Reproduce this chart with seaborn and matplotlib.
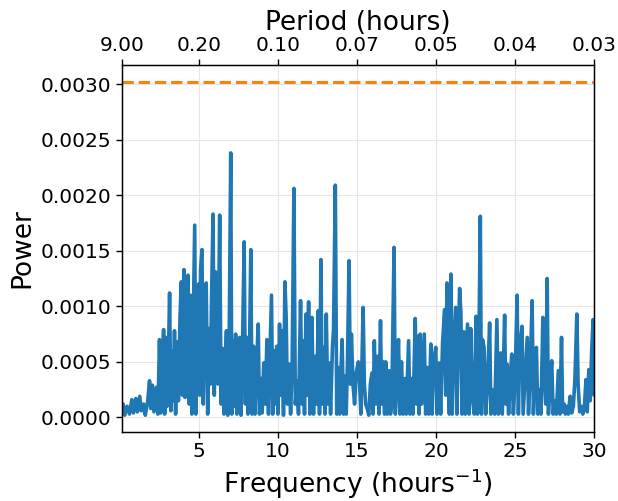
import numpy as np
import pandas as pd
import matplotlib
matplotlib.use("Agg")
import matplotlib.pyplot as plt
import seaborn as sns

# Frequency (hours^-1) and power (in units of 1e-4), by segment
freq_a = [0.11, 0.2, 0.3, 0.45, 0.6, 0.75, 0.85, 1.0, 1.1, 1.25,
          1.35, 1.5, 1.6, 1.75, 1.87, 1.95, 2.05, 2.15, 2.3, 2.4,
          2.5, 2.58, 2.68, 2.76, 2.83, 2.9, 2.98, 3.05, 3.14, 3.22,
          3.3, 3.38, 3.45, 3.52, 3.6, 3.7, 3.8, 3.88, 3.95, 4.05,
          4.12, 4.2, 4.3, 4.38, 4.45, 4.55, 4.62, 4.73, 4.8, 4.9,
          4.98]
power_a = [0.5, 1.2, 0.2, 1.0, 0.3, 1.6, 0.4, 1.7, 0.5, 1.9,
           0.6, 1.2, 0.2, 1.4, 3.3, 0.8, 2.9, 0.5, 2.7, 0.3,
           7.0, 0.4, 5.0, 7.9, 0.3, 7.2, 1.0, 4.0, 11.2, 0.6,
           6.0, 1.5, 7.8, 0.3, 6.8, 1.5, 9.0, 12.2, 2.0, 13.3,
           1.8, 9.0, 12.8, 1.2, 11.0, 0.3, 7.0, 17.3, 0.3, 9.0,
           12.0]

freq_b = [5.05, 5.1, 5.19, 5.27, 5.35, 5.46, 5.55, 5.65, 5.72, 5.8,
          5.89, 5.97, 6.05, 6.12, 6.2, 6.31, 6.4, 6.5, 6.58, 6.66,
          6.74, 6.82, 6.9, 7.01, 7.08, 7.15, 7.23, 7.32, 7.4, 7.5,
          7.58, 7.66, 7.75, 7.86, 7.94, 8.02, 8.1, 8.2, 8.28, 8.36,
          8.45, 8.55, 8.65, 8.75, 8.83, 8.93, 9.0, 9.1, 9.2, 9.3,
          9.4, 9.5, 9.59, 9.67, 9.75, 9.83, 9.92]
power_b = [2.0, 13.3, 15.1, 1.2, 8.0, 12.1, 0.3, 8.0, 3.0, 11.0,
           18.3, 2.0, 13.1, 8.0, 3.0, 18.2, 1.2, 6.2, 0.3, 5.0,
           7.8, 0.2, 4.5, 23.8, 0.3, 6.9, 1.0, 7.5, 0.3, 6.0,
           7.2, 0.2, 6.0, 15.8, 1.2, 7.2, 0.3, 6.0, 15.1, 0.3,
           6.4, 0.3, 5.0, 8.4, 0.3, 3.5, 0.4, 4.9, 1.2, 7.0,
           0.3, 6.0, 11.0, 0.3, 6.0, 1.2, 6.4]

freq_c = [10.0, 10.1, 10.18, 10.26, 10.35, 10.44, 10.52, 10.6, 10.7, 10.8,
          10.9, 11.01, 11.1, 11.2, 11.3, 11.43, 11.52, 11.6, 11.68, 11.77,
          11.85, 11.94, 12.02, 12.1, 12.15, 12.25, 12.35, 12.45, 12.55, 12.63,
          12.72, 12.8, 12.9, 12.98, 13.06, 13.15, 13.25, 13.33, 13.45, 13.52,
          13.63, 13.72, 13.8, 13.9, 13.98, 14.06, 14.15, 14.25, 14.32, 14.4,
          14.5, 14.58, 14.65, 14.75, 14.85, 14.95]
power_c = [0.3, 8.4, 2.0, 7.8, 0.2, 12.2, 9.0, 1.2, 4.8, 0.3,
           5.0, 20.6, 1.2, 3.3, 0.3, 10.5, 1.2, 6.9, 0.3, 9.3,
           2.0, 10.4, 0.3, 6.0, 9.0, 0.3, 5.5, 1.2, 9.6, 0.3,
           14.2, 1.2, 6.3, 0.3, 9.3, 1.2, 4.9, 0.3, 6.3, 8.0,
           20.9, 0.3, 4.5, 0.3, 4.0, 7.0, 0.3, 3.7, 0.3, 5.0,
           14.1, 3.0, 7.5, 3.0, 1.2, 4.0]

freq_d = [15.09, 15.17, 15.25, 15.39, 15.47, 15.55, 15.65, 15.75, 15.85, 15.95,
          16.02, 16.1, 16.2, 16.3, 16.4, 16.49, 16.57, 16.66, 16.75, 16.82,
          16.92, 17.03, 17.12, 17.2, 17.35, 17.43, 17.55, 17.63, 17.72, 17.82,
          17.92, 18.03, 18.12, 18.27, 18.35, 18.45, 18.55, 18.69, 18.77, 18.86,
          18.93, 19.0, 19.1, 19.26, 19.35, 19.45, 19.55, 19.68, 19.76, 19.85,
          19.99]
power_d = [5.0, 3.0, 0.3, 9.9, 3.0, 1.2, 0.8, 0.2, 3.0, 4.0,
           0.3, 6.9, 1.2, 5.5, 0.3, 8.7, 1.2, 5.0, 0.3, 5.0,
           0.3, 4.2, 0.3, 1.0, 15.3, 0.3, 4.0, 7.0, 0.3, 5.0,
           0.3, 3.5, 0.3, 6.9, 0.3, 3.5, 0.3, 8.9, 1.2, 7.3,
           0.3, 7.5, 1.2, 7.5, 0.3, 4.5, 0.3, 6.6, 0.3, 5.0,
           6.3]

freq_e = [20.07, 20.2, 20.3, 20.42, 20.55, 20.62, 20.7, 20.78, 20.85, 20.95,
          21.03, 21.12, 21.25, 21.33, 21.42, 21.5, 21.58, 21.65, 21.77, 21.86,
          22.0, 22.1, 22.2, 22.3, 22.42, 22.54, 22.62, 22.7, 22.81, 22.88,
          22.95, 23.05, 23.15, 23.25, 23.4, 23.48, 23.6, 23.72, 23.86, 23.95,
          24.1, 24.2, 24.35, 24.42, 24.5, 24.6, 24.72, 24.8, 24.9, 25.0]
power_e = [0.3, 4.9, 0.3, 6.7, 9.7, 2.0, 12.1, 5.0, 0.3, 12.9,
           0.3, 6.0, 9.9, 0.3, 7.0, 11.6, 9.4, 0.3, 7.7, 0.3,
           8.4, 0.3, 8.0, 2.0, 0.3, 9.1, 0.3, 4.0, 18.1, 0.3,
           7.0, 6.3, 0.3, 2.5, 8.5, 0.3, 2.5, 0.3, 8.8, 0.3,
           5.8, 0.3, 9.2, 1.2, 4.8, 0.3, 4.0, 5.7, 0.3, 3.0]

freq_f = [25.14, 25.22, 25.3, 25.45, 25.52, 25.62, 25.78, 25.86, 25.96, 26.09,
          26.17, 26.26, 26.36, 26.45, 26.55, 26.65, 26.77, 26.85, 26.95, 27.04,
          27.12, 27.2, 27.33, 27.42, 27.52, 27.62, 27.75, 27.85, 27.95, 28.02,
          28.12, 28.2, 28.3, 28.38, 28.5, 28.6, 28.7, 28.8, 28.92, 29.0,
          29.1, 29.2, 29.3, 29.4, 29.5, 29.58, 29.68, 29.76, 29.86, 29.95,
          30.0]
power_f = [11.0, 0.3, 6.0, 8.2, 0.3, 3.0, 7.2, 0.3, 4.0, 10.5,
           0.3, 4.0, 6.3, 0.3, 2.5, 0.3, 9.0, 4.0, 1.2, 12.5,
           0.3, 2.5, 5.1, 0.3, 1.5, 0.3, 4.2, 0.3, 7.2, 0.5,
           1.2, 0.3, 1.0, 0.3, 1.9, 0.4, 1.0, 3.5, 9.3, 3.0,
           0.5, 1.0, 0.3, 1.0, 3.4, 0.5, 4.3, 1.5, 6.0, 8.8,
           2.0]

threshold = 0.00302  # false-alarm level (dashed line)

bottom_ticks = [5, 10, 15, 20, 25, 30]
top_tick_freqs = [1 / 9, 5, 10, 15, 20, 25, 30]
top_tick_labels = ["9.00", "0.20", "0.10", "0.07", "0.05", "0.04", "0.03"]

freq = freq_a + freq_b + freq_c + freq_d + freq_e + freq_f
power = np.array(power_a + power_b + power_c + power_d + power_e + power_f) * 1e-4
df = pd.DataFrame({"freq": freq, "power": power})

sns.set_style("whitegrid", {"axes.edgecolor": "black", "grid.color": "#e6e6e6",
                            "xtick.bottom": True, "ytick.left": True,
                            "xtick.color": "black", "ytick.color": "black",
                            "text.color": "black", "axes.labelcolor": "black"})
plt.rcParams["font.family"] = ["DejaVu Sans"]

fig = plt.figure(figsize=(6.18, 5.01), dpi=100)
ax = fig.add_axes([0.197, 0.138, 0.764, 0.732])

sns.lineplot(data=df, x="freq", y="power", ax=ax, color="#1f77b4",
             linewidth=2.6, estimator=None)
ax.axhline(threshold, color="#ff7f0e", linestyle="--", linewidth=2.2)

ax.set_xlim(1 / 9, 30)
ax.set_xticks(bottom_ticks)
ax.set_yticks([0.0, 0.0005, 0.0010, 0.0015, 0.0020, 0.0025, 0.0030])
ax.yaxis.set_major_formatter(matplotlib.ticker.FormatStrFormatter("%.4f"))
ax.set_xlabel("Frequency (hours$^{-1}$)", fontsize=19, labelpad=4)
ax.set_ylabel("Power", fontsize=19)
ax.tick_params(labelsize=14.5, length=4, width=1, direction="out")
for s in ax.spines.values():
    s.set_linewidth(1.0)
    s.set_color("black")

ax2 = ax.twiny()
ax2.set_xlim(ax.get_xlim())
ax2.set_xticks(top_tick_freqs)
ax2.set_xticklabels(top_tick_labels)
ax2.grid(False)
ax2.tick_params(labelsize=14.5, length=4, width=1, direction="out", top=True)
ax2.set_xlabel("Period (hours)", fontsize=19, labelpad=4)

fig.savefig("out.png", dpi=100)
